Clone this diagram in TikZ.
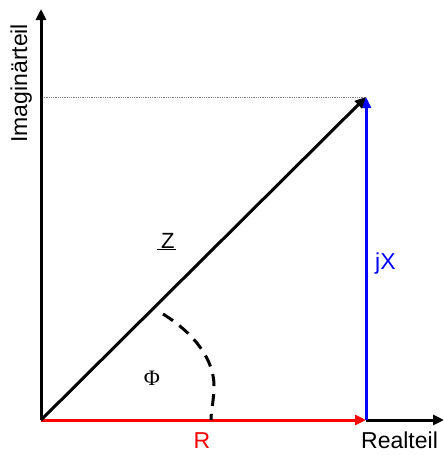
\documentclass[tikz,border=0pt]{standalone}
\usepackage{fontspec}
\setmainfont{Liberation Sans}
\newfontfamily\phifont{Liberation Serif}
\usetikzlibrary{arrows.meta}
\definecolor{myblue}{RGB}{0,0,255}
\definecolor{myred}{RGB}{255,0,0}
\tikzset{
  vec/.style={line width=3pt,-{Triangle[length=11pt,width=10pt]}},
  lbl/.style={inner sep=0pt,font=\fontsize{23}{26}\selectfont},
}
\begin{document}
\begin{tikzpicture}[x=1pt,y=-1pt]
\useasboundingbox (0,0) rectangle (444,455);
\coordinate (O) at (41,420);
\coordinate (Ytop) at (41,9);
\coordinate (Xend) at (444,420);
\coordinate (Rend) at (366,420);
\coordinate (P) at (366,97);
\coordinate (Pl) at (42,97);
\coordinate (A1) at (163,314);
\coordinate (A2) at (214,386);
\coordinate (A3) at (211,420);
% dotted guide
\draw[gray, line width=0.8pt, densely dotted] (Pl) -- (P);
% axes
\draw[vec] (O) -- (Ytop);
\draw[vec] (Rend) -- (Xend);
% vectors
\draw[vec, myred] (O) -- (Rend);
\draw[vec, myblue] (Rend) -- (P);
\draw[vec, black] (O) -- (P);
% angle arc
\draw[line width=3pt, dash pattern=on 12pt off 8pt] (A1) .. controls (195,334) and (214,360) .. (A2) .. controls (214,400) and (211,410) .. (A3);
% labels
\node[lbl, rotate=90, anchor=south west] (ylab) at (32,143) {Imaginärteil};
\node[lbl, anchor=north west] (xlab) at (361,432) {Realteil};
\node[lbl, anchor=north, text=myred] (rlab) at (202,432) {R};
\node[lbl, anchor=west, text=myblue] (xl) at (375,264) {jX};
\node[lbl, anchor=base west, font=\fontsize{22}{26}\selectfont] (zlab) at (157,248) {\underline{\hspace{4pt}Z\hspace{1pt}}};
\node[inner sep=0pt, font=\phifont\fontsize{22}{26}\selectfont] (phi) at (152,378) {Φ};
\end{tikzpicture}
\end{document}
